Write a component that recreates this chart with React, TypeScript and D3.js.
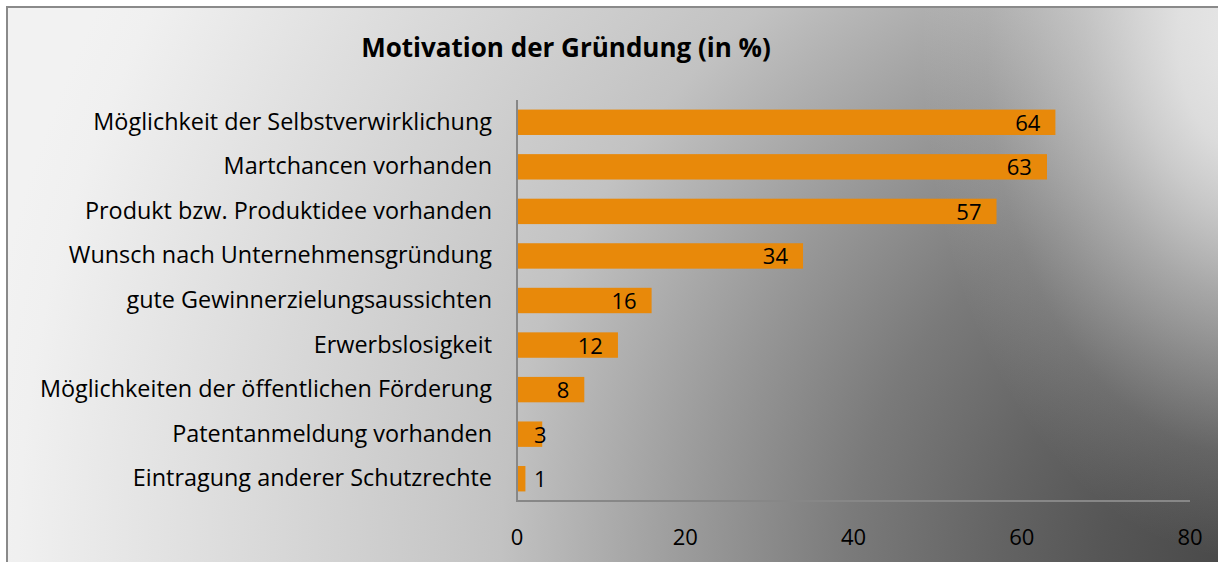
import * as d3 from 'd3'

const categories = [
  'Möglichkeit der Selbstverwirklichung',
  'Martchancen vorhanden',
  'Produkt bzw. Produktidee vorhanden',
  'Wunsch nach Unternehmensgründung',
  'gute Gewinnerzielungsaussichten',
  'Erwerbslosigkeit',
  'Möglichkeiten der öffentlichen Förderung',
  'Patentanmeldung vorhanden',
  'Eintragung anderer Schutzrechte',
]
const values = [64, 63, 57, 34, 16, 12, 8, 3, 1]
const ticks = [0, 20, 40, 60, 80]
const title = 'Motivation der Gründung (in %)'

const width = 1218
const height = 562
const margin = { top: 100, left: 517, right: 28, bottom: 61 }
const barColor = '#e8890a'
const axisColor = '#878787'
const font = '"Open Sans", sans-serif'

export default function App() {
  const x = d3
    .scaleLinear()
    .domain([0, 80])
    .range([margin.left, width - margin.right])

  const y = d3
    .scaleBand()
    .domain(categories)
    .range([margin.top, height - margin.bottom])
    .paddingInner(0.43)
    .paddingOuter(0.215)

  const data = categories.map((name, i) => ({ name, value: values[i] }))

  return (
    <svg
      width={width}
      height={height}
      style={{ position: 'absolute', left: 0, top: 0 }}
      fontFamily={font}
    >
      <defs>
        {/* dark toward the bottom right corner */}
        <radialGradient id="bg" gradientUnits="userSpaceOnUse" cx={1218} cy={562} r={1250}>
          <stop offset="0" stopColor="#4a4a4a" />
          <stop offset="0.094" stopColor="#565656" />
          <stop offset="0.174" stopColor="#636363" />
          <stop offset="0.294" stopColor="#7a7a7a" />
          <stop offset="0.414" stopColor="#989898" />
          <stop offset="0.574" stopColor="#c2c2c2" />
          <stop offset="0.62" stopColor="#c8c8c8" />
          <stop offset="0.96" stopColor="#f0f0f0" />
          <stop offset="1" stopColor="#f2f2f2" />
        </radialGradient>
        {/* light spot along the top of the right edge */}
        <radialGradient
          id="glow"
          gradientUnits="userSpaceOnUse"
          cx={0}
          cy={0}
          r={1}
          gradientTransform="translate(1250,40) scale(330,520)"
        >
          <stop offset="0" stopColor="#ececec" stopOpacity={0.95} />
          <stop offset="0.22" stopColor="#ececec" stopOpacity={0.84} />
          <stop offset="0.34" stopColor="#ececec" stopOpacity={0.69} />
          <stop offset="0.5" stopColor="#ececec" stopOpacity={0.46} />
          <stop offset="0.68" stopColor="#ececec" stopOpacity={0.24} />
          <stop offset="0.8" stopColor="#ececec" stopOpacity={0.1} />
          <stop offset="1" stopColor="#ececec" stopOpacity={0} />
        </radialGradient>
      </defs>

      <rect x={0} y={0} width={width} height={height} fill="#ffffff" />
      <rect x={7} y={7} width={width + 10} height={height + 10} fill="url(#bg)" />
      <rect x={7} y={7} width={width + 10} height={height + 10} fill="url(#glow)" />
      <rect
        x={7}
        y={7}
        width={width + 10}
        height={height + 10}
        fill="none"
        stroke="#8a8a8a"
        strokeWidth={2}
      />

      <text x={566} y={57} textAnchor="middle" fontSize={26} fontWeight="bold" fill="#000">
        {title}
      </text>

      {data.map((d) => (
        <rect
          key={d.name}
          x={x(0)}
          y={y(d.name)}
          width={x(d.value) - x(0)}
          height={y.bandwidth()}
          fill={barColor}
        />
      ))}

      {data.map((d) => (
        <text
          key={'c' + d.name}
          x={492}
          y={(y(d.name) as number) + y.bandwidth() / 2 + 7.5}
          textAnchor="end"
          fontSize={23.4}
          fill="#000"
        >
          {d.name}
        </text>
      ))}

      {data.map((d) => {
        const w = String(d.value).length * 12.6
        const start = Math.max(x(d.value) - 15 - w, x(0) + 17)
        return (
          <text
            key={'v' + d.name}
            x={start}
            y={(y(d.name) as number) + y.bandwidth() / 2 + 8.5}
            fontSize={22}
            fill="#000"
          >
            {d.value}
          </text>
        )
      })}

      <line
        x1={x(0)}
        x2={x(0)}
        y1={margin.top}
        y2={height - margin.bottom}
        stroke={axisColor}
        strokeWidth={2}
      />
      <line
        x1={x(0) - 1}
        x2={x(80)}
        y1={height - margin.bottom}
        y2={height - margin.bottom}
        stroke={axisColor}
        strokeWidth={2}
      />

      {ticks.map((t) => (
        <text key={'t' + t} x={x(t)} y={545} textAnchor="middle" fontSize={22} fill="#000">
          {t}
        </text>
      ))}
    </svg>
  )
}
